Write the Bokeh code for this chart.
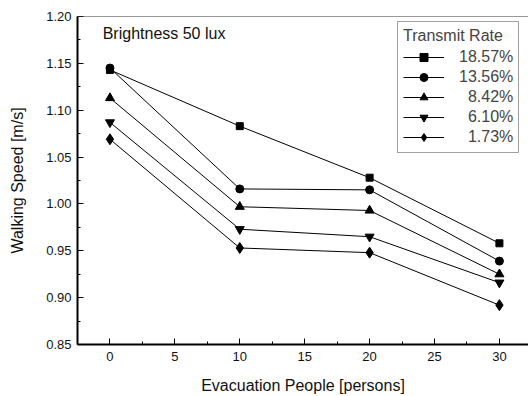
from bokeh.plotting import figure
from bokeh.models import (Range1d, SingleIntervalTicker, FixedTicker, PrintfTickFormatter, Legend,
                          LegendItem, Span, Label)
from bokeh.embed import file_html
from bokeh.resources import INLINE

people = [0, 10, 20, 30]
rate_labels = ["18.57%", "13.56%", "8.42%", "6.10%", "1.73%"]
speed_1857 = [1.143, 1.083, 1.028, 0.958]
speed_1356 = [1.145, 1.016, 1.015, 0.939]
speed_842 = [1.113, 0.997, 0.993, 0.925]
speed_610 = [1.087, 0.973, 0.965, 0.916]
speed_173 = [1.069, 0.953, 0.948, 0.892]
y_ticks = [0.85, 0.90, 0.95, 1.00, 1.05, 1.10, 1.15, 1.20]

series = [speed_1857, speed_1356, speed_842, speed_610, speed_173]
markers = [("square", 7), ("circle", 8), ("triangle", 9),
           ("inverted_triangle", 9), ("diamond", 11)]

FONT = "Liberation Sans"

p = figure(width=528, height=396, output_backend="svg", toolbar_location=None,
           x_range=Range1d(-2.5, 32.24), y_range=Range1d(0.85, 1.20),
           min_border_left=77, min_border_right=0, min_border_top=16, min_border_bottom=50)
p.outline_line_color = None
p.grid.grid_line_color = None
p.background_fill_color = "white"
p.border_fill_color = "white"

p.xaxis.ticker = SingleIntervalTicker(interval=5, num_minor_ticks=2)
y_minor = [(a + b) / 2 for a, b in zip(y_ticks[:-1], y_ticks[1:])]
p.yaxis.ticker = FixedTicker(ticks=y_ticks, minor_ticks=y_minor)
p.yaxis.formatter = PrintfTickFormatter(format="%.2f")

for ax in (p.xaxis, p.yaxis):
    ax.axis_line_width = 2
    ax.axis_line_color = "black"
    ax.major_tick_in = 6
    ax.major_tick_out = 0
    ax.minor_tick_in = 3
    ax.minor_tick_out = 0
    ax.major_tick_line_width = 1
    ax.major_label_text_font = FONT
    ax.major_label_text_font_size = "13px"
    ax.major_label_text_color = "#111111"
    ax.axis_label_text_font = FONT
    ax.axis_label_text_font_size = "16px"
    ax.axis_label_text_font_style = "normal"
    ax.axis_label_text_color = "#111111"

p.xaxis.axis_label = "Evacuation People [persons]"
p.yaxis.axis_label = "Walking Speed [m/s]"
p.xaxis.major_label_standoff = 7
p.yaxis.major_label_standoff = 6
p.xaxis.axis_label_standoff = 13
p.yaxis.axis_label_standoff = 17

p.add_layout(Span(location=1.20, dimension="width", line_color="#333333", line_width=1))

items = []
for vals, (mk, sz), lab in zip(series, markers, rate_labels):
    r1 = p.line(people, vals, line_color="black", line_width=1)
    r2 = p.scatter(people, vals, marker=mk, size=sz,
                   fill_color="black", line_color="black")
    pad = "\u2007" * (6 - len(lab))
    items.append(LegendItem(label=pad + lab, renderers=[r1, r2]))

legend = Legend(items=items, location=(320, 191), title="Transmit Rate",
                title_text_font=FONT, title_text_font_size="16px", title_text_font_style="normal",
                label_text_font=FONT, label_text_font_size="16px",
                glyph_width=41, glyph_height=20, label_height=20, label_standoff=15,
                spacing=0, padding=5, title_standoff=2, margin=0,
                border_line_color="#444444", border_line_width=1,
                background_fill_color="white", background_fill_alpha=1)
p.add_layout(legend)

p.add_layout(Label(x=-0.56, y=1.182, text="Brightness 50 lux", text_font=FONT,
                   text_font_size="16px", text_baseline="alphabetic", text_color="#111111"))

open("out.html", "w").write(file_html(p, INLINE))
